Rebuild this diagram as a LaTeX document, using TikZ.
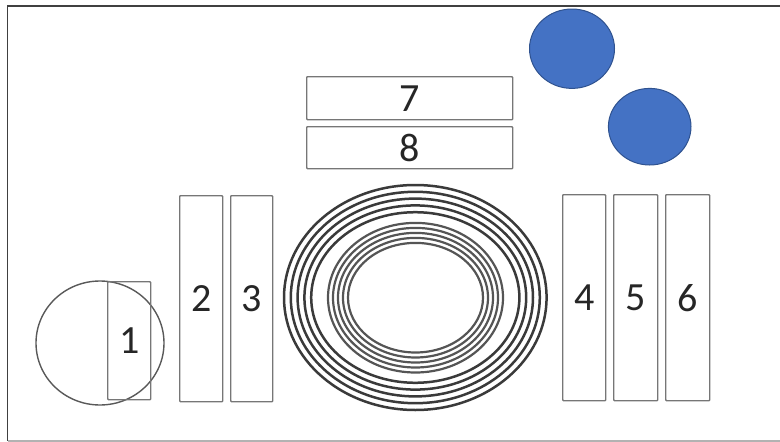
\documentclass[tikz,border=0pt]{standalone}
\usepackage{fontspec}
\setmainfont{Carlito}
\definecolor{boxgray}{HTML}{767676}
\definecolor{ringdark}{HTML}{3A3A3A}
\definecolor{ringgray}{HTML}{555555}
\definecolor{bluefill}{HTML}{4472C4}
\definecolor{blueedge}{HTML}{2F528F}
\tikzset{
  seat/.style={draw=boxgray, line width=1.4pt, rounded corners=0.8pt, inner sep=0pt, anchor=north west,
    font=\fontsize{40}{40}\selectfont, text=black!85},
  dot/.style={fill=bluefill, draw=blueedge, line width=1pt},
  outerring/.style={draw=ringdark, line width=2.5pt},
  innerring/.style={draw=ringgray, line width=2.2pt},
  frameline/.style={draw=black!75, line width=1.3pt}
}
\begin{document}
\begin{tikzpicture}[x=1pt,y=-1pt]
\useasboundingbox (0,0) rectangle (780,442);
% frame
\draw[frameline] (780,6) -- (7.5,6) -- (7.5,441);
\draw[draw=black!30, line width=1.2pt] (7.5,441) -- (780,441);
% left circle
\draw[draw=black!65, line width=1.4pt] (100,343) ellipse (64 and 62);
% seats
\node[seat, minimum width=43pt, minimum height=118pt] (s1) at (107,281) {1};
\node[seat, minimum width=43pt, minimum height=206pt] (s2) at (179,195) {2};
\node[seat, minimum width=42pt, minimum height=206pt] (s3) at (230,195) {3};
\node[seat, minimum width=43pt, minimum height=206pt] (s4) at (562,194) {4};
\node[seat, minimum width=44pt, minimum height=206pt] (s5) at (613,194) {5};
\node[seat, minimum width=44pt, minimum height=206pt] (s6) at (665,194) {6};
\node[seat, minimum width=206pt, minimum height=43pt] (s7) at (306,76) {7};
\node[seat, minimum width=206pt, minimum height=42pt] (s8) at (306,126) {8};
% blue circles
\draw[dot] (572,48.7) ellipse (42.5 and 39.7);
\draw[dot] (649.7,126.7) ellipse (41.3 and 38.3);
% concentric rings
\foreach \i in {0,...,4} {
  \draw[outerring] (415.3,297.5) ellipse ({131.3-6.8*\i} and {112.5-6.8*\i});
  \draw[innerring] (415.5,297.7) ellipse ({87.5-5*\i} and {74.8-5*\i});
}
\end{tikzpicture}
\end{document}
